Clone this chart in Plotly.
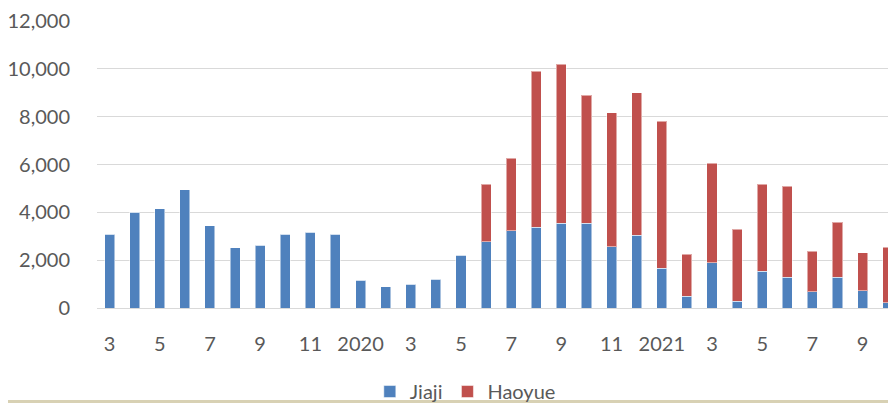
import plotly.graph_objects as go

months = ["2019-03","2019-04","2019-05","2019-06","2019-07","2019-08","2019-09","2019-10","2019-11","2019-12",
          "2020-01","2020-02","2020-03","2020-04","2020-05","2020-06","2020-07","2020-08","2020-09","2020-10","2020-11","2020-12",
          "2021-01","2021-02","2021-03","2021-04","2021-05","2021-06","2021-07","2021-08","2021-09","2021-10"]
jiaji = [3080, 4010, 4140, 4950, 3440, 2520, 2630, 3090, 3160, 3090,
         1160, 880, 990, 1200, 2200, 2770, 3230, 3370, 3540, 3540, 2560, 3050,
         1660, 490, 1895, 290, 1530, 1280, 680, 1295, 725, 210]
haoyue = [0, 0, 0, 0, 0, 0, 0, 0, 0, 0,
          0, 0, 0, 0, 0, 2400, 3025, 6530, 6655, 5360, 5600, 5950,
          6155, 1750, 4165, 3010, 3640, 3805, 1690, 2300, 1585, 2340]
tick_cats = ["2019-03","2019-05","2019-07","2019-09","2019-11","2020-01","2020-03","2020-05","2020-07",
             "2020-09","2020-11","2021-01","2021-03","2021-05","2021-07","2021-09"]
tick_labels = ["3","5","7","9","11","2020","3","5","7","9","11","2021","3","5","7","9"]
y_ticks = [0, 2000, 4000, 6000, 8000, 10000, 12000]

FONT = "Lato"
TXT = "#595959"

fig = go.Figure()
fig.add_trace(go.Bar(x=months, y=jiaji, name="Jiaji", width=0.4,
                     marker=dict(color="#4F81BD", line=dict(color="rgba(255,255,255,0.5)", width=1))))
fig.add_trace(go.Bar(x=months, y=haoyue, name="Haoyue", width=0.4,
                     marker=dict(color="#C0504D", line=dict(color="rgba(255,255,255,0.5)", width=1))))

# the page body has an 8px margin, so the figure is sized to fill the window from there
fig.update_layout(
    barmode="stack",
    width=888, height=395,
    margin=dict(l=89, r=0, t=13, b=95, autoexpand=False),
    paper_bgcolor="white", plot_bgcolor="white",
    font=dict(family=FONT, size=20, color=TXT),
    showlegend=True,
    legend=dict(orientation="h", xref="container", yref="container",
                x=0.515, xanchor="center", y=0.029, yanchor="middle",
                traceorder="normal",
                font=dict(size=20, color=TXT), itemwidth=30, tracegroupgap=0,
                bgcolor="rgba(0,0,0,0)"),
    bargap=0.6,
)
fig.update_xaxes(type="category", categoryorder="array", categoryarray=months,
                 range=[-0.5, 31.33], tickvals=tick_cats, ticktext=tick_labels,
                 showgrid=False, showline=False, zeroline=False, automargin=False,
                 ticks="outside", ticklen=18, tickcolor="rgba(0,0,0,0)",
                 tickfont=dict(family=FONT, size=20, color=TXT), tickangle=0)
fig.update_yaxes(range=[0, 12000], tickvals=y_ticks, tickformat=",d",
                 showgrid=True, gridcolor="#D9D9D9", gridwidth=1.3, automargin=False,
                 zeroline=True, zerolinecolor="#D9D9D9", zerolinewidth=1.3,
                 showline=False, ticks="outside", ticklen=22, tickcolor="rgba(0,0,0,0)",
                 tickfont=dict(family=FONT, size=20, color=TXT))

# bottom border line of the chart frame
fig.add_shape(type="rect", xref="paper", yref="paper", x0=-0.2, x1=1.1,
              ysizemode="pixel", yanchor=0, y0=-92, y1=-95,
              line=dict(width=0), fillcolor="#D8D1B4", layer="above")

fig.write_html("out.html")
